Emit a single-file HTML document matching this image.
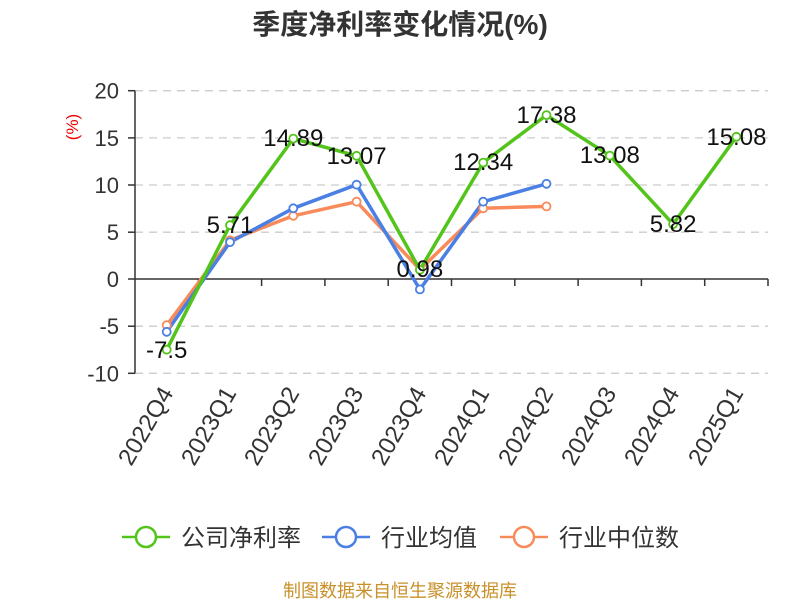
<!DOCTYPE html>
<html><head><meta charset="utf-8"><style>
body{margin:0;background:#fff;width:800px;height:600px;overflow:hidden}
text{font-family:"Liberation Sans","Noto Sans CJK SC",sans-serif}
</style></head><body>
<svg width="800" height="600" xmlns="http://www.w3.org/2000/svg">
<text x="400" y="34" text-anchor="middle" font-size="28" font-weight="bold" fill="#333">季度净利率变化情况(%)</text>
<g stroke="#ccc" stroke-dasharray="8,6" stroke-width="1.3">
<line x1="135" x2="768" y1="90.7" y2="90.7"/><line x1="135" x2="768" y1="137.9" y2="137.9"/>
<line x1="135" x2="768" y1="185" y2="185"/><line x1="135" x2="768" y1="232.2" y2="232.2"/>
<line x1="135" x2="768" y1="326.2" y2="326.2"/><line x1="135" x2="768" y1="373.3" y2="373.3"/>
</g>
<g stroke="#333" stroke-width="1.5">
<line x1="135" x2="135" y1="90.7" y2="373.3"/>
<line x1="135" x2="768" y1="279" y2="279"/>
<line x1="128" x2="135" y1="90.7" y2="90.7"/><line x1="128" x2="135" y1="137.9" y2="137.9"/>
<line x1="128" x2="135" y1="185" y2="185"/><line x1="128" x2="135" y1="232.2" y2="232.2"/>
<line x1="128" x2="135" y1="279" y2="279"/><line x1="128" x2="135" y1="326.2" y2="326.2"/>
<line x1="128" x2="135" y1="373.3" y2="373.3"/>
<line x1="198.3" x2="198.3" y1="279" y2="286"/><line x1="261.6" x2="261.6" y1="279" y2="286"/>
<line x1="324.9" x2="324.9" y1="279" y2="286"/><line x1="388.2" x2="388.2" y1="279" y2="286"/>
<line x1="451.5" x2="451.5" y1="279" y2="286"/><line x1="514.8" x2="514.8" y1="279" y2="286"/>
<line x1="578.1" x2="578.1" y1="279" y2="286"/><line x1="641.4" x2="641.4" y1="279" y2="286"/>
<line x1="704.7" x2="704.7" y1="279" y2="286"/><line x1="768" x2="768" y1="279" y2="286"/>
</g>
<g font-size="22" fill="#333" text-anchor="end">
<text x="119" y="98.7">20</text><text x="119" y="145.9">15</text><text x="119" y="193">10</text>
<text x="119" y="240.2">5</text><text x="119" y="287">0</text><text x="119" y="334.2">-5</text><text x="119" y="381.3">-10</text>
</g>
<text transform="translate(78,127) rotate(-90)" text-anchor="middle" font-size="17" fill="#e00">(%)</text>
<g font-size="24" fill="#333" text-anchor="end">
<text transform="translate(174,393) rotate(-60)">2022Q4</text>
<text transform="translate(237,393) rotate(-60)">2023Q1</text>
<text transform="translate(300,393) rotate(-60)">2023Q2</text>
<text transform="translate(364,393) rotate(-60)">2023Q3</text>
<text transform="translate(427,393) rotate(-60)">2023Q4</text>
<text transform="translate(490,393) rotate(-60)">2024Q1</text>
<text transform="translate(554,393) rotate(-60)">2024Q2</text>
<text transform="translate(617,393) rotate(-60)">2024Q3</text>
<text transform="translate(680,393) rotate(-60)">2024Q4</text>
<text transform="translate(744,393) rotate(-60)">2025Q1</text>
</g>
<g fill="none" stroke-width="3.5" stroke-linejoin="round">
<polyline stroke="#f98b5b" points="166.7,325.2 230,240.3 293.3,215.8 356.6,201.7 419.9,269.6 483.2,208.3 546.5,206.4"/>
<polyline stroke="#4a7fe3" points="166.7,331.8 230,242.2 293.3,208.3 356.6,184.7 419.9,289.4 483.2,201.7 546.5,183.8"/>
<polyline stroke="#52c41a" points="166.7,349.7 230,225.2 293.3,138.6 356.6,155.8 419.9,269.8 483.2,162.6 546.5,115.1 609.8,155.7 673.1,224.1 736.4,136.8"/>
</g>
<g fill="#fff" stroke-width="1.8">
<g stroke="#f98b5b"><circle cx="166.7" cy="325.2" r="4"/><circle cx="230" cy="240.3" r="4"/><circle cx="293.3" cy="215.8" r="4"/><circle cx="356.6" cy="201.7" r="4"/><circle cx="419.9" cy="269.6" r="4"/><circle cx="483.2" cy="208.3" r="4"/><circle cx="546.5" cy="206.4" r="4"/></g>
<g stroke="#4a7fe3"><circle cx="166.7" cy="331.8" r="4"/><circle cx="230" cy="242.2" r="4"/><circle cx="293.3" cy="208.3" r="4"/><circle cx="356.6" cy="184.7" r="4"/><circle cx="419.9" cy="289.4" r="4"/><circle cx="483.2" cy="201.7" r="4"/><circle cx="546.5" cy="183.8" r="4"/></g>
<g stroke="#52c41a"><circle cx="166.7" cy="349.7" r="4"/><circle cx="230" cy="225.2" r="4"/><circle cx="293.3" cy="138.6" r="4"/><circle cx="356.6" cy="155.8" r="4"/><circle cx="419.9" cy="269.8" r="4"/><circle cx="483.2" cy="162.6" r="4"/><circle cx="546.5" cy="115.1" r="4"/><circle cx="609.8" cy="155.7" r="4"/><circle cx="673.1" cy="224.1" r="4"/><circle cx="736.4" cy="136.8" r="4"/></g>
</g>
<g font-size="24" fill="#111" text-anchor="middle">
<text x="166.7" y="358">-7.5</text><text x="230" y="233">5.71</text><text x="293.3" y="146">14.89</text>
<text x="356.6" y="164">13.07</text><text x="419.9" y="277">0.98</text><text x="483.2" y="170">12.34</text>
<text x="546.5" y="123">17.38</text><text x="609.8" y="163">13.08</text><text x="673.1" y="232">5.82</text><text x="736.4" y="145">15.08</text>
</g>
<g stroke-width="2.5" fill="#fff">
<line x1="122" x2="170" y1="537" y2="537" stroke="#52c41a"/><circle cx="146" cy="537" r="10" stroke="#52c41a"/>
<line x1="322" x2="370" y1="537" y2="537" stroke="#4a7fe3"/><circle cx="346" cy="537" r="10" stroke="#4a7fe3"/>
<line x1="500" x2="548" y1="537" y2="537" stroke="#f98b5b"/><circle cx="524" cy="537" r="10" stroke="#f98b5b"/>
</g>
<g font-size="24" fill="#333">
<text x="181" y="546">公司净利率</text><text x="381" y="546">行业均值</text><text x="559" y="546">行业中位数</text>
</g>
<text x="400" y="597" text-anchor="middle" font-size="18" fill="#c8902a">制图数据来自恒生聚源数据库</text>
</svg>
</body></html>
